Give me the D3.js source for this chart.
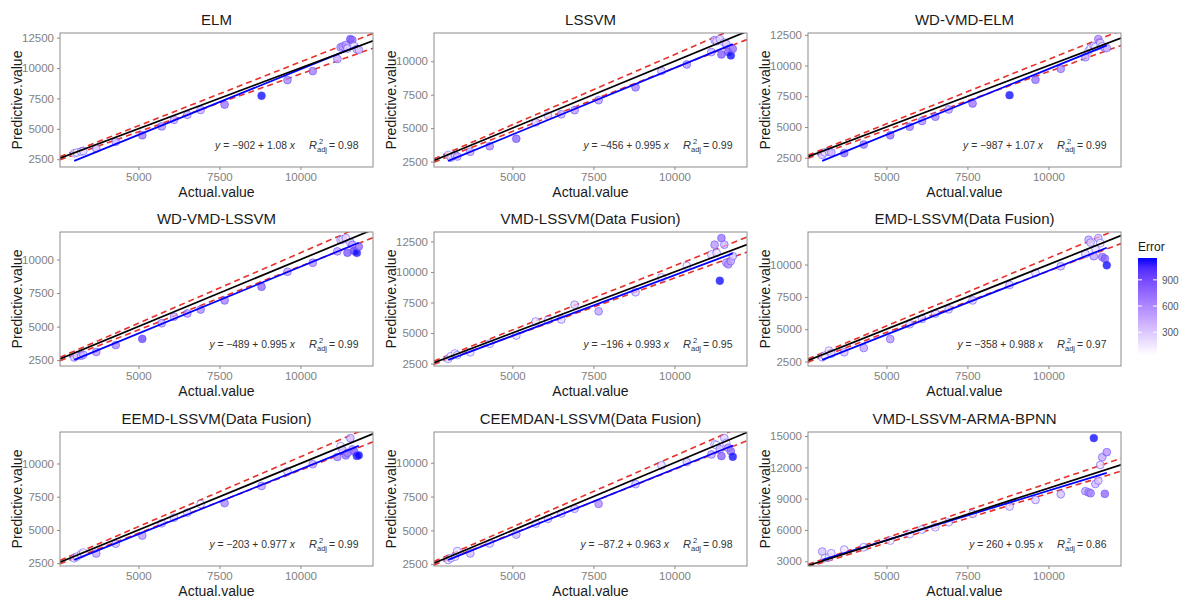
<!DOCTYPE html>
<html>
<head>
<meta charset="utf-8">
<title>Predicted vs actual</title>
<script src="https://cdn.jsdelivr.net/npm/d3@7"></script>
<style>
  body { margin: 0; background: #fff; }
  text { font-family: "Liberation Sans", Arial, sans-serif; }
</style>
</head>
<body>
<div id="chart"></div>
<script>
// ---- data ----
var models = ["ELM", "LSSVM", "WD-VMD-ELM",
              "WD-VMD-LSSVM", "VMD-LSSVM(Data Fusion)", "EMD-LSSVM(Data Fusion)",
              "EEMD-LSSVM(Data Fusion)", "CEEMDAN-LSSVM(Data Fusion)", "VMD-LSSVM-ARMA-BPNN"];

var actual = [3020, 3100, 3230, 3300, 3700, 4300, 5120, 5720, 6100, 6510, 6920, 7660, 8800,
              9600, 10380, 11140, 11240, 11300, 11400, 11450, 11540, 11600, 11660, 11740, 11800];

var predELM      = [2990, 3050, 3130, 3180, 3390, 3930, 4470, 5200, 5740, 6150, 6550, 6990, 7720,
                    9010, 9750, 10740, 11700, 11770, 11900, 11600, 12380, 12300, 11800, 11550, 11500];
var predLSSVM    = [2990, 2790, 2990, 2880, 3230, 3650, 4210, 5430, 5920, 6040, 6340, 7090, 8050,
                    9270, 9760, 10690, 11590, 11500, 11660, 10510, 11400, 11300, 10700, 10440, 10930];
var predWdVmdElm = [2740, 2930, 3000, 2930, 2880, 3580, 4330, 5030, 5490, 5840, 6430, 6910, 7590,
                    8840, 9730, 10670, 11200, 11400, 11600, 11500, 12150, 11830, 11560, 11450, 11420];
var predWdVmdLs  = [2700, 2820, 2820, 2900, 3110, 3620, 4085, 5250, 5740, 5980, 6270, 6950, 7970,
                    9090, 9760, 10610, 11460, 11500, 11600, 10510, 11270, 11100, 10640, 10500, 10970];
var predVmdLs    = [2900, 3110, 3330, 3200, 3430, 4130, 4800, 5950, 6060, 6110, 7320, 6780, 8340,
                    9550, 10490, 11430, 12230, 11560, 9280, 12770, 12230, 10760, 10620, 10890, 11290];
var predEmdLs    = [2830, 2960, 3340, 3100, 3220, 3550, 4240, 5390, 5800, 6210, 6540, 7230, 8420,
                    9360, 9870, 10820, 11920, 11700, 10650, 11200, 12050, 11660, 10590, 10460, 9950];
var predEemdLs   = [2870, 2990, 3180, 3300, 3230, 3970, 4580, 5500, 5920, 6300, 6950, 7020, 8310,
                    9400, 9950, 10490, 11300, 11000, 10610, 10800, 11910, 11060, 10900, 10570, 10610];
var predCeemdLs  = [2820, 2950, 3060, 3470, 3300, 4030, 4690, 5500, 5860, 6250, 6600, 6960, 8420,
                    9800, 10050, 10610, 11360, 11300, 11000, 10490, 11820, 11460, 11100, 10850, 10440];
var predBpnn     = [3930, 3300, 3400, 3770, 4120, 4340, 4980, 5600, 6040, 6260, 6740, 7540, 8240,
                    8880, 9420, 9710, 9600, 9520, 14800, 10410, 10730, 12230, 12970, 9460, 13450];

var predicted = [predELM, predLSSVM, predWdVmdElm, predWdVmdLs, predVmdLs,
                 predEmdLs, predEemdLs, predCeemdLs, predBpnn];

var intercepts = [-902, -456, -987, -489, -196, -358, -203, -87.2, 260];
var slopes     = [1.08, 0.995, 1.07, 0.995, 0.993, 0.988, 0.977, 0.963, 0.95];
var r2adj      = ["0.98", "0.99", "0.99", "0.99", "0.95", "0.97", "0.99", "0.98", "0.86"];

var xTicks = [5000, 7500, 10000];
var yTicks = [[2500, 5000, 7500, 10000, 12500],
              [2500, 5000, 7500, 10000],
              [2500, 5000, 7500, 10000, 12500],
              [2500, 5000, 7500, 10000],
              [2500, 5000, 7500, 10000, 12500],
              [2500, 5000, 7500, 10000],
              [2500, 5000, 7500, 10000],
              [2500, 5000, 7500, 10000],
              [3000, 6000, 9000, 12000, 15000]];

var bandRatio = 0.05;              // red dashed lines: y = x * (1 +/- 5%)
var legendTicks = [300, 600, 900];
var legendDomain = [40, 1150];

// ---- layout ----
var W = 1184, H = 601;
var colX = [0, 374, 748], rowY = [0, 199, 399];
var plotW = 313, plotH = 134;

var svg = d3.select("#chart").append("svg")
    .attr("width", W).attr("height", H);

var errColor = function(domain) {
    return d3.scaleLinear().domain(domain).range(["white", "blue"])
             .interpolate(d3.interpolateLab).clamp(true);
};

function fmt(v) {
    return (v < 0 ? "\u2212" : "") + Math.abs(v);
}

models.forEach(function(name, i) {
    var left = colX[i % 3] + 60, top = rowY[Math.floor(i / 3)] + 33;
    var pred = predicted[i];
    var a = intercepts[i], b = slopes[i];
    var xMin = d3.min(actual), xMax = d3.max(actual);

    var xr = xMax - xMin;
    var xs = d3.scaleLinear()
        .domain([xMin - bandRatio * xr, xMax + bandRatio * xr]).range([0, plotW]);

    var yVals = pred.concat([a + b * xMin, a + b * xMax]);
    var yMin = d3.min(yVals), yMax = d3.max(yVals), yr = yMax - yMin;
    var ys = d3.scaleLinear().domain([yMin - 0.05 * yr, yMax + 0.05 * yr]).range([plotH, 0]);

    var g = svg.append("g").attr("transform", "translate(" + left + "," + top + ")");

    g.append("clipPath").attr("id", "clip" + i)
      .append("rect").attr("width", plotW).attr("height", plotH);

    // axes
    var xAxis = g.append("g").attr("transform", "translate(0," + plotH + ")")
        .call(d3.axisBottom(xs).tickValues(xTicks).tickSize(3).tickPadding(3).tickFormat(d3.format("d")));
    var yAxis = g.append("g")
        .call(d3.axisLeft(ys).tickValues(yTicks[i]).tickSize(3).tickPadding(3).tickFormat(d3.format("d")));
    [xAxis, yAxis].forEach(function(ax) {
        ax.select(".domain").remove();
        ax.selectAll("line").attr("stroke", "#8a8a8a");
        ax.selectAll("text").attr("fill", "#7f7f7f").style("font-size", "11.5px");
    });

    var body = g.append("g").attr("clip-path", "url(#clip" + i + ")");
    var xd = xs.domain();

    // red dashed +/- band
    [1 + bandRatio, 1 - bandRatio].forEach(function(k) {
        body.append("line")
            .attr("x1", xs(xd[0])).attr("y1", ys(xd[0] * k))
            .attr("x2", xs(xd[1])).attr("y2", ys(xd[1] * k))
            .attr("stroke", "#e8302a").attr("stroke-width", 1.6)
            .attr("stroke-dasharray", "6,4");
    });

    // points coloured by error
    var err = actual.map(function(v, j) { return Math.abs(pred[j] - v); });
    var col = errColor([0, d3.max(err)]);
    body.selectAll("circle").data(actual).enter().append("circle")
        .attr("cx", function(d) { return xs(d); })
        .attr("cy", function(d, j) { return ys(pred[j]); })
        .attr("r", 3.9)
        .attr("fill", function(d, j) { return col(err[j]); })
        .attr("fill-opacity", 0.75)
        .attr("stroke", "#5a48ff").attr("stroke-opacity", 0.55).attr("stroke-width", 1);

    // fitted line
    body.append("line")
        .attr("x1", xs(xMin)).attr("y1", ys(a + b * xMin))
        .attr("x2", xs(xMax)).attr("y2", ys(a + b * xMax))
        .attr("stroke", "blue").attr("stroke-width", 1.7);

    // 1:1 line
    body.append("line")
        .attr("x1", xs(xd[0])).attr("y1", ys(xd[0]))
        .attr("x2", xs(xd[1])).attr("y2", ys(xd[1]))
        .attr("stroke", "black").attr("stroke-width", 1.7);

    // panel border
    g.append("rect").attr("width", plotW).attr("height", plotH)
        .attr("fill", "none").attr("stroke", "#8c8c8c").attr("stroke-width", 1);

    // equation
    var eqY = plotH - 18;
    var eq = g.append("text").attr("x", plotW - 78).attr("y", eqY)
        .attr("text-anchor", "end").attr("fill", "#333").style("font-size", "10.3px");
    eq.append("tspan").style("font-style", "italic").text("y");
    eq.append("tspan").text(" = " + fmt(a) + " + " + b + " ");
    eq.append("tspan").style("font-style", "italic").text("x");

    var rx = plotW - 64;
    g.append("text").attr("x", rx).attr("y", eqY).attr("fill", "#333")
        .style("font-size", "11px").style("font-style", "italic").text("R");
    g.append("text").attr("x", rx + 10).attr("y", eqY - 5).attr("fill", "#333")
        .style("font-size", "7.5px").text("2");
    g.append("text").attr("x", rx + 8).attr("y", eqY + 3).attr("fill", "#333")
        .style("font-size", "7.5px").text("adj");
    g.append("text").attr("x", rx + 20).attr("y", eqY).attr("fill", "#333")
        .style("font-size", "10.5px").text("= " + r2adj[i]);

    // titles
    g.append("text").attr("x", plotW / 2).attr("y", -8).attr("text-anchor", "middle")
        .attr("fill", "#1a1a1a").style("font-size", "15px").text(name);
    g.append("text").attr("x", plotW / 2).attr("y", plotH + 30).attr("text-anchor", "middle")
        .attr("fill", "#1a1a1a").style("font-size", "14px").text("Actual.value");
    g.append("text").attr("transform", "translate(-38," + plotH / 2 + ") rotate(-90)")
        .attr("text-anchor", "middle").attr("fill", "#1a1a1a").style("font-size", "14px")
        .text("Predictive.value");
});

// ---- legend ----
var lg = svg.append("g").attr("transform", "translate(1138,258)");
var barH = 97, barW = 19;
var ls = d3.scaleLinear().domain(legendDomain).range([barH, 0]);
var grad = svg.append("defs").append("linearGradient").attr("id", "errGrad")
    .attr("x1", 0).attr("y1", 1).attr("x2", 0).attr("y2", 0);
var lc = errColor(legendDomain);
d3.range(0, 1.01, 0.1).forEach(function(t) {
    grad.append("stop").attr("offset", t)
        .attr("stop-color", lc(legendDomain[0] + t * (legendDomain[1] - legendDomain[0])));
});
lg.append("text").attr("x", 0).attr("y", -7).attr("fill", "#1a1a1a")
    .style("font-size", "12px").text("Error");
lg.append("rect").attr("width", barW).attr("height", barH).attr("fill", "url(#errGrad)");
legendTicks.forEach(function(v) {
    lg.append("line").attr("x1", 0).attr("x2", 4).attr("y1", ls(v)).attr("y2", ls(v))
        .attr("stroke", "white").attr("stroke-width", 1);
    lg.append("line").attr("x1", barW - 4).attr("x2", barW).attr("y1", ls(v)).attr("y2", ls(v))
        .attr("stroke", "white").attr("stroke-width", 1);
    lg.append("text").attr("x", barW + 5).attr("y", ls(v) + 4).attr("fill", "#555")
        .style("font-size", "10px").text(v);
});
</script>
</body>
</html>
